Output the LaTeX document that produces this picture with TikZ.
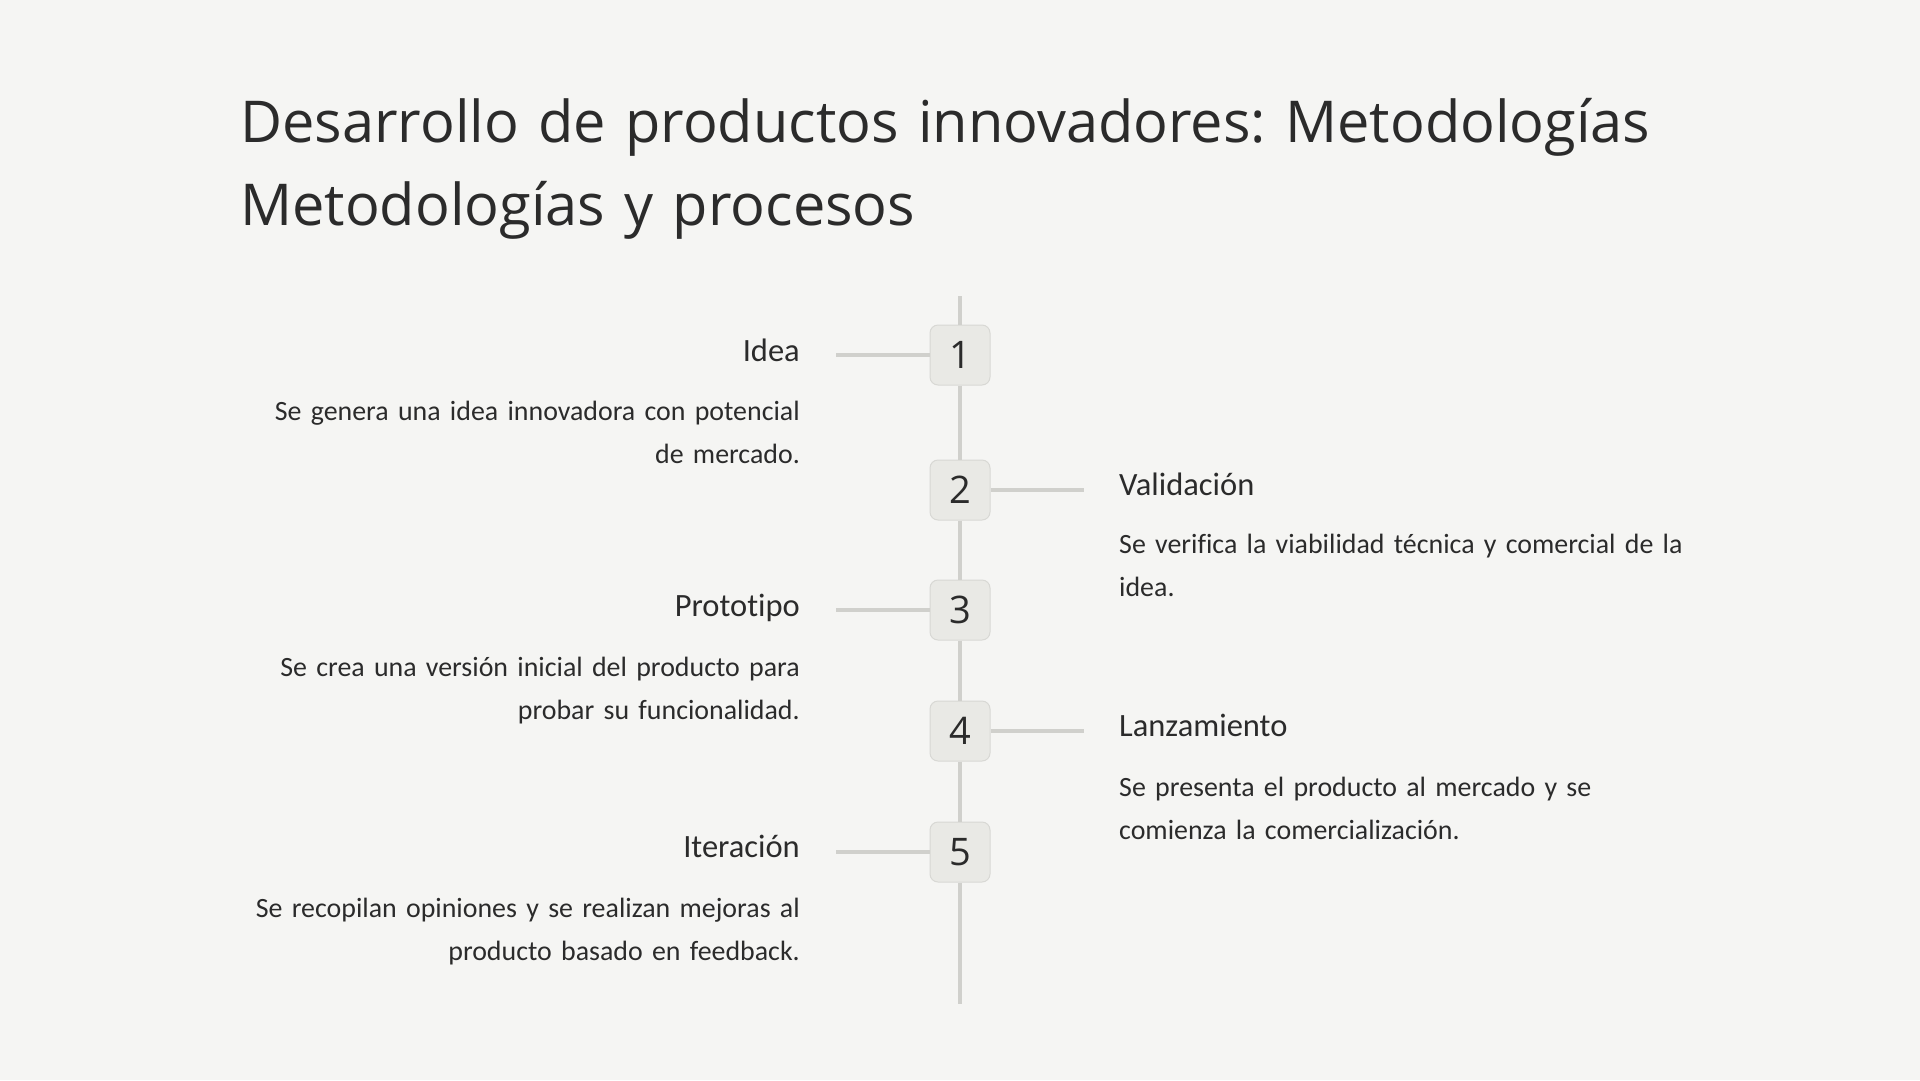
\documentclass[tikz,border=0pt]{standalone}
\usepackage{fontspec}
\setmainfont{Carlito}[Ligatures=NoCommon]
\newfontfamily\titlefont{Open Sans}
\usetikzlibrary{positioning}
\frenchspacing
\definecolor{fondo}{RGB}{245,245,243}
\definecolor{linea}{RGB}{208,208,204}
\definecolor{caja}{RGB}{233,233,229}
\definecolor{borde}{RGB}{216,216,212}
\definecolor{texto}{RGB}{43,43,43}
\tikzset{
  numbox/.style={draw=borde, line width=1pt, fill=caja, rounded corners=8pt,
    minimum size=60pt, inner sep=0pt, text=texto,
    font=\titlefont\fontsize{38}{38}\selectfont},
  conector/.style={draw=linea, line width=4pt},
  etiq/.style={inner sep=0pt, text=texto, font=\fontsize{32.5}{38}\selectfont},
  desc/.style={inner sep=0pt, text=texto, text width=600pt,
    font=\fontsize{27.9}{43}\selectfont}
}

\begin{document}
\begin{tikzpicture}[x=1pt, y=-1pt]
    % Fondo
    \fill[fondo] (0, 0) rectangle (1920, 1080);

    % Titulo
    \node[anchor=base west, inner sep=0pt, text width=1600pt, align=left, text=texto,
          font=\titlefont\fontsize{57.7}{83}\selectfont] (titulo) at (240, 142)
        {Desarrollo de productos innovadores: Metodologías\\Metodologías y procesos};

    % Pasos numerados
    \node[numbox] (n1) at (960, 355) {\raisebox{-3pt}{1}};
    \node[numbox] (n2) at (960, 490) {\raisebox{-3pt}{2}};
    \node[numbox] (n3) at (960, 610) {\raisebox{-3pt}{3}};
    \node[numbox] (n4) at (960, 731) {\raisebox{-3pt}{4}};
    \node[numbox] (n5) at (960, 852) {\raisebox{-3pt}{5}};

    % Linea de tiempo vertical
    \coordinate (arriba) at (960, 296);
    \coordinate (abajo) at (960, 1004);
    \draw[conector] (arriba) -- (n1);
    \draw[conector] (n1) -- (n2);
    \draw[conector] (n2) -- (n3);
    \draw[conector] (n3) -- (n4);
    \draw[conector] (n4) -- (n5);
    \draw[conector] (n5) -- (abajo);

    % Conectores laterales
    \coordinate (c1) at (836, 355);
    \coordinate (c2) at (1084, 490);
    \coordinate (c3) at (836, 610);
    \coordinate (c4) at (1084, 731);
    \coordinate (c5) at (836, 852);
    \draw[conector] (c1) -- (n1);
    \draw[conector] (n2) -- (c2);
    \draw[conector] (c3) -- (n3);
    \draw[conector] (n4) -- (c4);
    \draw[conector] (c5) -- (n5);

    % Textos a la izquierda
    \node[etiq, anchor=base east] (idea) at (800, 361) {Idea};
    \node[desc, anchor=base east, align=right] (ideatxt) at (800, 420)
        {Se genera una idea innovadora con potencial\\de mercado.};
    \node[etiq, anchor=base east] (proto) at (800, 616) {Prototipo};
    \node[desc, anchor=base east, align=right] (prototxt) at (800, 676)
        {Se crea una versión inicial del producto para\\probar su funcionalidad.};
    \node[etiq, anchor=base east] (iter) at (800, 857) {Iteración};
    \node[desc, anchor=base east, align=right] (itertxt) at (800, 917)
        {Se recopilan opiniones y se realizan mejoras al\\producto basado en feedback.};

    % Textos a la derecha
    \node[etiq, anchor=base west] (valid) at (1119, 495) {Validación};
    \node[desc, anchor=base west, align=left] (validtxt) at (1119, 553)
        {Se verifica la viabilidad técnica y comercial de la\\idea.};
    \node[etiq, anchor=base west] (lanz) at (1119, 736) {Lanzamiento};
    \node[desc, anchor=base west, align=left] (lanztxt) at (1119, 796)
        {Se presenta el producto al mercado y se\\comienza la comercialización.};
\end{tikzpicture}
\end{document}
